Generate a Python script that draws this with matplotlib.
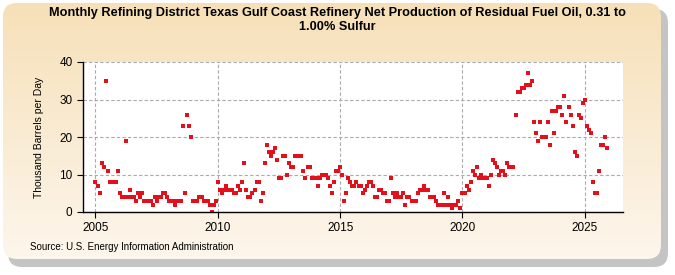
import matplotlib
matplotlib.use('Agg')
import matplotlib.pyplot as plt
from matplotlib.patches import FancyBboxPatch
import numpy as np

# monthly values, thousand barrels per day, Jan 2005 .. Dec 2025
v2005 = [8, 7, 5, 13, 12, 35, 11, 8, 8, 8, 8, 11]
v2006 = [5, 4, 4, 19, 4, 6, 4, 4, 3, 5, 4, 5]
v2007 = [3, 3, 3, 3, 2, 4, 3, 4, 4, 5, 5, 4]
v2008 = [3, 3, 3, 2, 3, 3, 3, 23, 5, 26, 23, 20]
v2009 = [3, 3, 3, 4, 4, 3, 3, 3, 2, 0, 2, 3]
v2010 = [8, 6, 5, 6, 7, 6, 6, 6, 5, 5, 7, 6]
v2011 = [8, 13, 6, 4, 4, 5, 6, 8, 8, 3, 5, 13]
v2012 = [18, 16, 15, 16, 17, 14, 9, 9, 15, 15, 10, 13]
v2013 = [12, 12, 15, 15, 15, 15, 11, 9, 12, 12, 9, 9]
v2014 = [9, 7, 9, 10, 10, 10, 9, 7, 5, 8, 11, 11]
v2015 = [12, 10, 3, 5, 9, 8, 7, 7, 8, 7, 7, 5]
v2016 = [6, 7, 8, 8, 7, 4, 4, 6, 6, 5, 5, 3]
v2017 = [3, 9, 5, 4, 5, 4, 4, 5, 2, 4, 4, 3]
v2018 = [3, 3, 5, 6, 6, 7, 6, 6, 4, 4, 4, 3]
v2019 = [2, 2, 2, 5, 2, 4, 2, 1, 2, 2, 3, 1]
v2020 = [5, 5, 7, 6, 8, 11, 10, 12, 9, 10, 9, 9]
v2021 = [9, 7, 10, 14, 13, 12, 10, 11, 11, 10, 13, 12]
v2022 = [12, 12, 26, 32, 32, 33, 33, 34, 37, 34, 35, 24]
v2023 = [21, 19, 24, 20, 20, 20, 24, 18, 27, 21, 27, 28]
v2024 = [28, 26, 31, 24, 28, 26, 23, 16, 15, 26, 25, 29]
v2025 = [30, 23, 22, 21, 8, 5, 5, 11, 18, 18, 20, 17]

values = (v2005 + v2006 + v2007 + v2008 + v2009 + v2010 + v2011 + v2012 + v2013
          + v2014 + v2015 + v2016 + v2017 + v2018 + v2019 + v2020 + v2021 + v2022
          + v2023 + v2024 + v2025)
start_year = 2005
dates = start_year + np.arange(len(values)) / 12

xticks = [2005, 2010, 2015, 2020, 2025]
yticks = [0, 10, 20, 30, 40]

title = 'Monthly Refining District Texas Gulf Coast Refinery Net Production of Residual Fuel Oil, 0.31 to\n1.00% Sulfur'
ylabel = 'Thousand Barrels per Day'
source = 'Source: U.S. Energy Information Administration'

narrow = ['Liberation Sans Narrow', 'Liberation Sans', 'DejaVu Sans']
plt.rcParams['font.family'] = ['Liberation Sans', 'DejaVu Sans']

fig = plt.figure(figsize=(6.75, 2.75), dpi=100)
fig.patch.set_facecolor('white')

# background panel with shadow and gradient
bg = fig.add_axes([0, 0, 1, 1], zorder=-5)
bg.set_xlim(0, 675)
bg.set_ylim(275, 0)
bg.axis('off')
shadow = FancyBboxPatch((8, 9), 660, 258, boxstyle='round,pad=0,rounding_size=14',
                        facecolor='#c4c4c4', edgecolor='none', zorder=1)
bg.add_patch(shadow)
panel = FancyBboxPatch((3, 3), 658, 256, boxstyle='round,pad=0,rounding_size=14',
                       facecolor='none', edgecolor='none', zorder=2)
bg.add_patch(panel)
grad = np.linspace(0, 1, 256).reshape(-1, 1)
c_top = np.array([0.965, 0.878, 0.722])
c_bot = np.array([0.992, 0.965, 0.925])
img = c_top + (c_bot - c_top) * grad[..., None]
im = bg.imshow(img, extent=(3, 661, 259, 3), aspect='auto', zorder=3)
im.set_clip_path(panel)

ax = fig.add_axes([83 / 675, 1 - 212 / 275, 540 / 675, 150 / 275])
ax.set_facecolor('white')
ax.plot(dates, values, linestyle='none', marker='s', markersize=3.2,
        color='#e3101b', markeredgewidth=0)

ax.set_xlim(2004.49, 2026.56)
ax.set_ylim(0, 40)
ax.set_xticks(xticks)
ax.set_yticks(yticks)
ax.grid(True, linestyle=(0, (3, 2)), color='#aaaaaa', linewidth=0.8)
ax.set_axisbelow(True)
for s in ['top', 'right']:
    ax.spines[s].set_visible(False)
ax.spines['left'].set_linewidth(1.0)
ax.spines['bottom'].set_linewidth(1.0)
ax.tick_params(axis='both', labelsize=8.5, length=4, width=0.8, colors='black')
for lab in ax.get_xticklabels() + ax.get_yticklabels():
    lab.set_family(narrow)
ax.set_ylabel(ylabel, fontsize=7.5, family=narrow)
ax.yaxis.set_label_coords(-0.072, 0.5)

fig.text(0.5, 1 - 20 / 275, title, ha='center', va='center', fontsize=9.2,
         fontweight='bold', family=narrow, linespacing=1.2)
fig.text(30 / 675, 1 - 247 / 275, source, ha='left', va='center', fontsize=7,
         family=narrow)

fig.savefig('out.png', dpi=100)
